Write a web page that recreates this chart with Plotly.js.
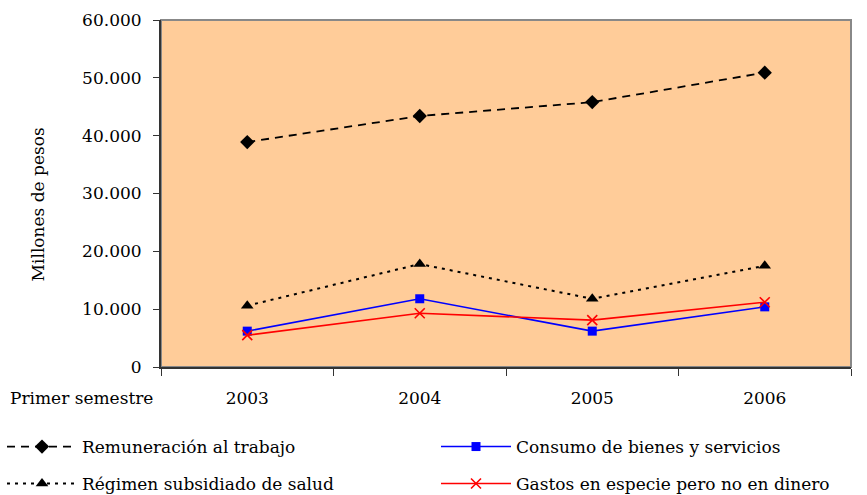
<!DOCTYPE html>
<html><head><meta charset="utf-8">
<script src="https://cdn.plot.ly/plotly-3.0.1.min.js"></script>
<style>body{margin:0;background:#fff}#chart{width:867px;height:495px}</style>
</head><body><div id="chart"></div>
<script>
const years = ['2003', '2004', '2005', '2006'];
const remuneracion = [38900, 43400, 45800, 50900];
const regimen = [10600, 17800, 11800, 17500];
const consumo = [6200, 11800, 6200, 10400];
const gastos = [5500, 9300, 8100, 11200];
const yTicks = [0, 10000, 20000, 30000, 40000, 50000, 60000];
const yTickText = ['0', '10.000', '20.000', '30.000', '40.000', '50.000', '60.000'];

const F = 'DejaVu Serif';
const FS = 17;
const traces = [
  {x: years, y: remuneracion, name: 'Remuneración al trabajo', mode: 'lines+markers',
   line: {color: '#000', dash: '8px,6px', width: 1.8}, marker: {symbol: 'diamond', size: 11, color: '#000'},
   legend: 'legend'},
  {x: years, y: consumo, name: 'Consumo de bienes y servicios', mode: 'lines+markers',
   line: {color: '#0000FF', width: 1.6}, marker: {symbol: 'square', size: 9, color: '#0000FF'},
   legend: 'legend2'},
  {x: years, y: regimen, name: 'Régimen subsidiado de salud', mode: 'lines+markers',
   line: {color: '#000', dash: '3px,5px', width: 2}, marker: {symbol: 'triangle-up', size: 11, color: '#000'},
   legend: 'legend3'},
  {x: years, y: gastos, name: 'Gastos en especie pero no en dinero', mode: 'lines+markers',
   line: {color: '#FF0000', width: 1.6}, marker: {symbol: 'x-thin-open', size: 10, color: '#FF0000', line: {color: '#FF0000', width: 1.6}},
   legend: 'legend4'}
];

function leg(xpx, ypx) {
  return {orientation: 'h', xref: 'container', yref: 'container', x: xpx / 867, xanchor: 'left',
    y: 1 - ypx / 495, yanchor: 'middle', itemwidth: 70,
    font: {family: F, size: FS, color: '#000'}, bgcolor: 'rgba(0,0,0,0)'};
}

const layout = {
  width: 867, height: 495,
  margin: {l: 161, r: 16, t: 20, b: 128},
  paper_bgcolor: '#fff', plot_bgcolor: '#FFCC99',
  font: {family: F, size: FS, color: '#000'},
  xaxis: {type: 'category', range: [-0.5, 3.5], tickson: 'boundaries', ticks: 'outside', ticklen: 7,
    tickcolor: '#333', showline: true, linecolor: '#333', linewidth: 2, showgrid: false, zeroline: false,
    tickfont: {family: F, size: FS, color: '#000'}, ticklabelstandoff: 15},
  yaxis: {range: [0, 60000], tickvals: yTicks, ticktext: yTickText, ticks: 'outside', ticklen: 6,
    tickcolor: '#333', showline: true, linecolor: '#333', linewidth: 2, showgrid: false, zeroline: false,
    tickfont: {family: F, size: FS, color: '#000'}, ticklabelstandoff: 8},
  shapes: [{type: 'rect', xref: 'paper', yref: 'paper', x0: 0, x1: 1, y0: 0, y1: 1,
    line: {color: '#888', width: 2}, layer: 'below'}],
  annotations: [
    {text: 'Primer semestre', xref: 'paper', yref: 'paper', x: -0.222, y: 0, yshift: -31,
     xanchor: 'left', yanchor: 'middle', showarrow: false, font: {family: F, size: FS, color: '#000'}},
    {text: 'Millones de pesos', xref: 'paper', yref: 'paper', x: -0.179, y: 0.47, textangle: -90,
     xanchor: 'center', yanchor: 'middle', showarrow: false, font: {family: F, size: FS, color: '#000'}}
  ],
  legend: leg(2, 447),
  legend2: leg(436, 447),
  legend3: leg(2, 484),
  legend4: leg(436, 484),
  showlegend: true
};
Plotly.newPlot('chart', traces, layout, {displayModeBar: false});
</script></body></html>
